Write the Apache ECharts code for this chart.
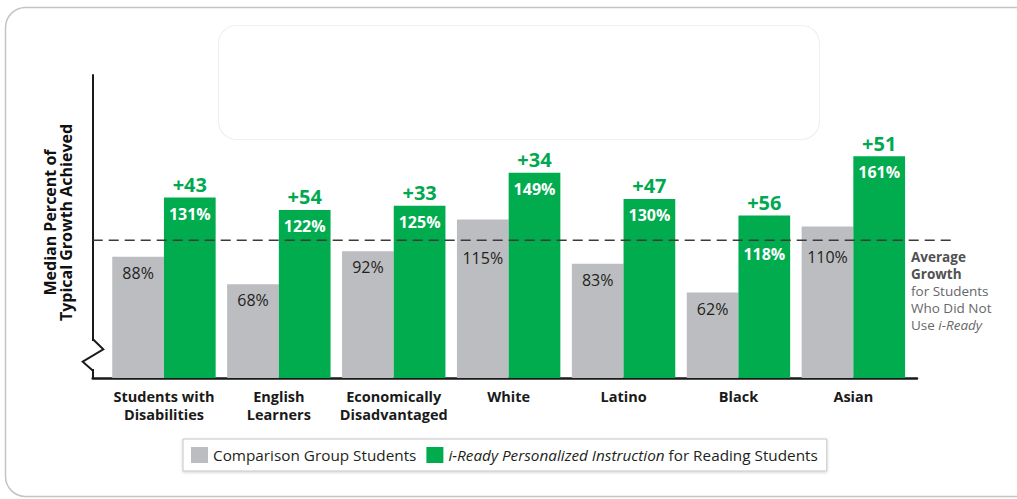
<!DOCTYPE html>
<html>
<head>
<meta charset="utf-8">
<script src="https://cdn.jsdelivr.net/npm/echarts@6/dist/echarts.min.js"></script>
<style>
html,body{margin:0;padding:0;background:#fff;}
#chart{width:1017px;height:499px;}
</style>
</head>
<body>
<div id="chart"></div>
<script>
// ---- data ----
const categories = ['Students with\nDisabilities', 'English\nLearners', 'Economically\nDisadvantaged', 'White', 'Latino', 'Black', 'Asian'];
const comparisonValues = [88, 68, 92, 115, 83, 62, 110];
const iReadyValues = [131, 122, 125, 149, 130, 118, 161];
const gains = [43, 54, 33, 34, 47, 56, 51];
const averageGrowth = 100;
const seriesNames = ['Comparison Group Students', 'i-Ready Personalized Instruction for Reading Students'];
const yName = 'Median Percent of\nTypical Growth Achieved';

// ---- styles ----
const FONT = 'Open Sans';
const GRAY = '#bcbdc0';
const GREEN = '#00ac4e';
const GAIN_GREEN = '#00a94f';
const grayLabelShift = [0, 0, 0, 22, 0, 0, 14];
const greenLabelShift = [0, 0, 0, 0, 0, 23, 0];

const plotTop = 75, plotHeight = 303;
const yMin = 0, yMax = 220;

const chart = echarts.init(document.getElementById('chart'), null, {renderer: 'svg'});

const option = {
  backgroundColor: '#ffffff',
  animation: false,
  textStyle: {fontFamily: FONT},
  grid: [
    {left: 106.5, width: 804.3, top: plotTop, height: plotHeight, outerBoundsMode: 'none'},
    {left: 92.7, width: 824.3, top: plotTop, height: plotHeight, outerBoundsMode: 'none'},
    {left: 92.7, width: 859.3, top: plotTop, height: plotHeight, outerBoundsMode: 'none'},
    {left: 106.5, width: 804.3, top: plotTop, height: plotHeight, outerBoundsMode: 'none'}
  ],
  xAxis: [
    {
      gridIndex: 0, type: 'category', data: categories,
      axisLine: {show: false}, axisTick: {show: false},
      axisLabel: {interval: 0, margin: 9, fontFamily: FONT, fontWeight: 'bold', fontSize: 14.5, color: '#1a1a1a', lineHeight: 18}
    },
    {
      gridIndex: 1, type: 'value', min: 0, max: 1,
      axisLine: {show: true, lineStyle: {color: '#1a1a1a', width: 2.5}},
      axisTick: {show: false}, axisLabel: {show: false}, splitLine: {show: false}
    },
    {gridIndex: 2, type: 'value', min: 0, max: 1, show: false},
    {gridIndex: 3, type: 'category', data: categories, show: false}
  ],
  yAxis: [
    {gridIndex: 0, type: 'value', min: yMin, max: yMax, show: false},
    {gridIndex: 1, type: 'value', min: yMin, max: yMax, show: false},
    {
      gridIndex: 2, type: 'value', min: yMin, max: yMax,
      axisLine: {show: true, lineStyle: {color: '#1a1a1a', width: 2}},
      axisTick: {show: false}, axisLabel: {show: false}, splitLine: {show: false},
      name: yName, nameLocation: 'middle', nameGap: 19, nameRotate: 90,
      nameTextStyle: {fontFamily: FONT, fontWeight: 'bold', fontSize: 16, lineHeight: 16, color: '#111', padding: [0, 0, 0, 8]}
    },
    {gridIndex: 3, type: 'value', min: yMin, max: yMax, show: false}
  ],
  legend: {
    data: seriesNames,
    left: 183, top: 439,
    orient: 'horizontal',
    icon: 'rect',
    itemWidth: 17, itemHeight: 16, itemGap: 10,
    padding: [8, 9, 8, 8],
    borderColor: '#c4c5c7', borderWidth: 1, borderRadius: 0,
    backgroundColor: '#fff',
    shadowColor: 'rgba(0,0,0,0.18)', shadowBlur: 3, shadowOffsetY: 1,
    selectedMode: false,
    textStyle: {
      fontFamily: FONT, fontSize: 15.3, color: '#231f20',
      rich: {
        i: {fontFamily: FONT, fontSize: 15.3, fontStyle: 'italic', color: '#231f20'},
        n: {fontFamily: FONT, fontSize: 15.3, color: '#231f20'}
      }
    },
    formatter: function (name) {
      if (name === seriesNames[1]) {
        return '{i|i-Ready Personalized Instruction}{n| for Reading Students}';
      }
      return '{n|' + name + '}';
    }
  },
  series: [
    {
      name: seriesNames[0], type: 'bar', xAxisIndex: 0, yAxisIndex: 0,
      barGap: '0%', barCategoryGap: '10%',
      itemStyle: {color: GRAY},
      data: comparisonValues.map((v, i) => ({value: v, label: {offset: [0, grayLabelShift[i]]}})),
      label: {show: true, position: 'insideTop', distance: 8, formatter: '{c}%', fontFamily: FONT, fontSize: 16, color: '#231f20'},
      z: 2
    },
    {
      name: seriesNames[1], type: 'bar', xAxisIndex: 0, yAxisIndex: 0,
      barGap: '0%', barCategoryGap: '10%',
      itemStyle: {color: GREEN},
      data: iReadyValues.map((v, i) => ({value: v, label: {offset: [0, greenLabelShift[i]]}})),
      label: {show: true, position: 'insideTop', distance: 8, formatter: '{c}%', fontFamily: FONT, fontSize: 16, fontWeight: 'bold', color: '#ffffff'},
      z: 2
    },
    {
      name: 'avg', type: 'line', xAxisIndex: 2, yAxisIndex: 2,
      data: [[0, averageGrowth], [1, averageGrowth]],
      symbol: 'none', silent: true,
      lineStyle: {color: '#3a3a3a', width: 1.6, type: [10, 6]},
      z: 5
    },
    {
      name: 'gapA', type: 'bar', xAxisIndex: 3, yAxisIndex: 3,
      barGap: '0%', barCategoryGap: '10%', silent: true,
      itemStyle: {color: 'rgba(0,0,0,0)'},
      data: comparisonValues, z: 1
    },
    {
      name: 'gains', type: 'bar', xAxisIndex: 3, yAxisIndex: 3,
      barGap: '0%', barCategoryGap: '10%', silent: true,
      itemStyle: {color: 'rgba(0,0,0,0)'},
      data: iReadyValues,
      label: {
        show: true, position: 'top', distance: 3,
        formatter: p => '+' + gains[p.dataIndex],
        fontFamily: FONT, fontSize: 20, fontWeight: 'bold', color: GAIN_GREEN
      },
      z: 1
    }
  ],
  graphic: [
    {
      type: 'rect', silent: true, z: -10,
      shape: {x: 5.5, y: 7.5, width: 1040, height: 489, r: 20},
      style: {fill: 'none', stroke: '#c4c4c4', lineWidth: 1.5}
    },
    {
      type: 'rect', silent: true, z: -10,
      shape: {x: 218.5, y: 25.5, width: 601, height: 114, r: 18},
      style: {fill: 'none', stroke: '#f0f0f0', lineWidth: 1.2}
    },
    {
      type: 'rect', silent: true, z: 50,
      shape: {x: 90.5, y: 341, width: 4.5, height: 28},
      style: {fill: '#ffffff'}
    },
    {
      type: 'polyline', silent: true, z: 51,
      shape: {points: [[92.7, 339], [103.3, 349.3], [82.7, 361.7], [92.7, 370.5]]},
      style: {stroke: '#1a1a1a', lineWidth: 2, fill: 'none'}
    },
    {
      type: 'text', silent: true, z: 20,
      left: 911, top: 250,
      style: {
        text: '{b|Average}\n{b|Growth}\n{r|for Students}\n{r|Who Did Not}\n{r|Use }{it|i-Ready}',
        fontFamily: FONT,
        rich: {
          b: {fontFamily: FONT, fontSize: 13.5, fontWeight: 'bold', fill: '#505153', lineHeight: 17},
          r: {fontFamily: FONT, fontSize: 13.5, fill: '#666769', lineHeight: 17},
          it: {fontFamily: FONT, fontSize: 13.5, fontStyle: 'italic', fill: '#666769', lineHeight: 17}
        }
      }
    }
  ]
};

chart.setOption(option);
</script>
</body>
</html>
